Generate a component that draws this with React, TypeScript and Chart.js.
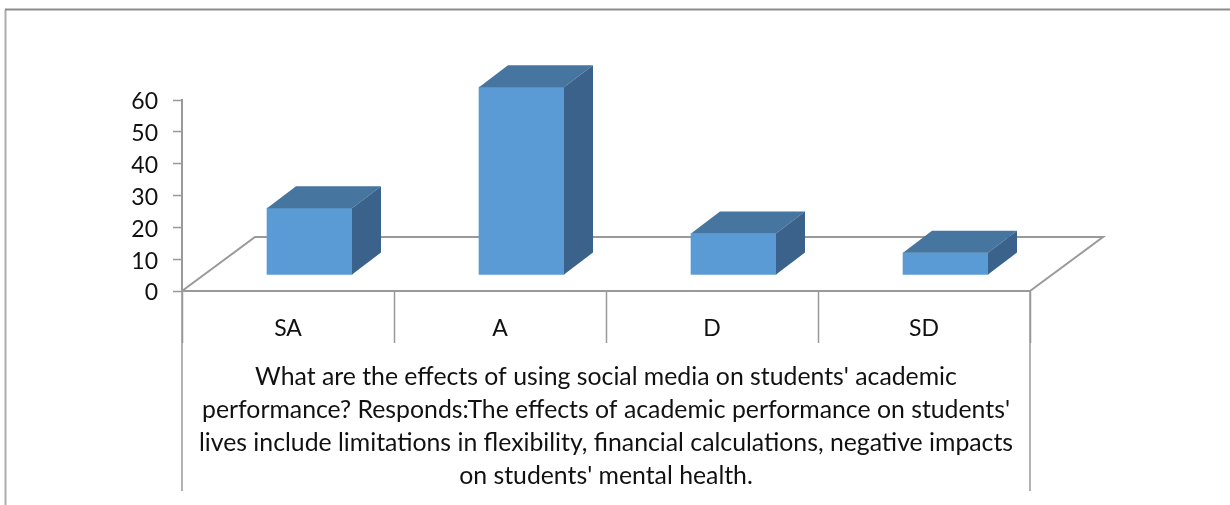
import React, { useEffect, useRef } from "react";
import { Chart, registerables } from "chart.js";

Chart.register(...registerables);

const categories = ["SA", "A", "D", "SD"];
const responses = [21, 59, 13, 7];
const yTicks = [0, 10, 20, 30, 40, 50, 60];
const axisTitle = [
  "What are the effects of using social media on students' academic",
  "performance? Responds:The effects of academic performance on students'",
  "lives include limitations in flexibility, financial calculations, negative impacts",
  "on students' mental health.",
];

const FONT = "Lato, sans-serif";
const TICK_SIZE = 23;
const TITLE_SIZE = 24.8;
const GREY = "#999999";
const FRONT = "#5B9BD5";
const TOP = "#46759F";
const SIDE = "#3A628A";

const floorDepth = { x: 73, y: 54 };
const barDepth = { x: 29, y: 22 };
const barShift = { x: 21.5, y: -16 };
const wallBottom = 491;
const yLabelNudge = 2;

const line = (ctx: CanvasRenderingContext2D, pts: number[][], color: string, w: number) => {
  ctx.save();
  ctx.strokeStyle = color;
  ctx.lineWidth = w;
  ctx.beginPath();
  pts.forEach(([x, y], i) => (i ? ctx.lineTo(x, y) : ctx.moveTo(x, y)));
  ctx.stroke();
  ctx.restore();
};

const poly = (ctx: CanvasRenderingContext2D, pts: number[][], color: string) => {
  ctx.fillStyle = color;
  ctx.beginPath();
  pts.forEach(([x, y], i) => (i ? ctx.lineTo(x, y) : ctx.moveTo(x, y)));
  ctx.closePath();
  ctx.fill();
};

const perspective = {
  id: "perspective",
  afterLayout(chart: any) {
    const s = chart.scales.y;
    if (s.__nudged) return;
    s.__nudged = true;
    const original = s.drawLabels;
    s.drawLabels = function (area: any) {
      chart.ctx.save();
      chart.ctx.translate(0, yLabelNudge);
      original.call(s, area);
      chart.ctx.restore();
    };
  },
  beforeDraw(chart: any) {
    const { ctx, width, height } = chart;
    ctx.save();
    ctx.fillStyle = "#ffffff";
    ctx.fillRect(0, 0, width, height);
    ctx.restore();
    line(ctx, [[5.5, height], [5.5, 10]], "#adadad", 2);
    line(ctx, [[5, 9.5], [width, 9.5]], "#8c8c8c", 2);
  },
  beforeDatasetsDraw(chart: any) {
    const { ctx, chartArea: a } = chart;
    line(
      ctx,
      [
        [a.left, a.bottom],
        [a.left + floorDepth.x, a.bottom - floorDepth.y],
        [a.right + floorDepth.x, a.bottom - floorDepth.y],
        [a.right, a.bottom],
      ],
      GREY,
      2
    );
    line(ctx, [[a.left, a.bottom], [a.left, wallBottom]], GREY, 1.5);
    line(ctx, [[a.right, a.bottom], [a.right, wallBottom]], GREY, 1.5);
  },
  beforeDatasetDraw(chart: any) {
    chart.ctx.save();
    chart.ctx.translate(barShift.x, barShift.y);
  },
  afterDatasetDraw(chart: any, args: any) {
    const { ctx } = chart;
    args.meta.data.forEach((bar: any) => {
      const { x, y, base, width } = bar.getProps(["x", "y", "base", "width"], true);
      const l = x - width / 2;
      const r = x + width / 2;
      poly(ctx, [[l, y], [l + barDepth.x, y - barDepth.y], [r + barDepth.x, y - barDepth.y], [r, y]], TOP);
      poly(ctx, [[r, y], [r + barDepth.x, y - barDepth.y], [r + barDepth.x, base - barDepth.y], [r, base]], SIDE);
    });
    ctx.restore();
  },
};

export default function App() {
  const ref = useRef<HTMLCanvasElement>(null);
  useEffect(() => {
    const chart = new Chart(ref.current!, {
      type: "bar",
      data: {
        labels: categories,
        datasets: [
          {
            data: responses,
            backgroundColor: FRONT,
            barThickness: 85,
            clip: false,
          } as any,
        ],
      },
      plugins: [perspective as any],
      options: {
        animation: false,
        responsive: false,
        events: [],
        layout: { padding: { top: 100, right: 200, left: 0, bottom: 0 } },
        plugins: { legend: { display: false }, tooltip: { enabled: false }, title: { display: false } },
        scales: {
          x: {
            afterFit(s: any) {
              s.height = 214;
            },
            grid: {
              drawOnChartArea: false,
              drawTicks: true,
              tickLength: 52,
              tickColor: GREY,
              tickWidth: 1.5,
            },
            border: { color: GREY, width: 2 },
            ticks: {
              color: "#111111",
              font: { family: FONT, size: TICK_SIZE },
              padding: -28,
              maxRotation: 0,
              autoSkip: false,
            },
            title: {
              display: true,
              text: axisTitle,
              color: "#111111",
              font: { family: FONT, size: TITLE_SIZE, lineHeight: 33 / TITLE_SIZE },
              padding: { top: 0, bottom: 12.5 },
            },
          },
          y: {
            min: 0,
            max: 60,
            afterBuildTicks(s: any) {
              s.ticks = yTicks.map((value) => ({ value }));
            },
            afterFit(s: any) {
              s.width = 182;
            },
            grid: {
              drawOnChartArea: false,
              drawTicks: true,
              tickLength: 9,
              tickColor: GREY,
              tickWidth: 1.5,
            },
            border: { color: GREY, width: 2 },
            ticks: {
              color: "#111111",
              font: { family: FONT, size: TICK_SIZE },
              padding: 15,
            },
          },
        },
      } as any,
    });
    return () => chart.destroy();
  }, []);
  return (
    <canvas
      ref={ref}
      width={1230}
      height={505}
      style={{ position: "fixed", left: 0, top: 0, display: "block" }}
    />
  );
}
